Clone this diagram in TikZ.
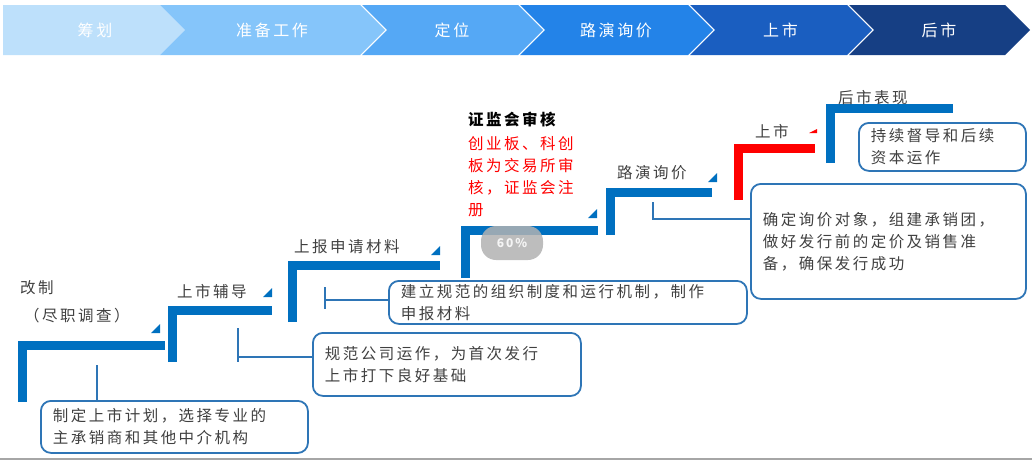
\documentclass[tikz,border=0pt]{standalone}
\usepackage{fontspec}
\setmainfont{Noto Sans CJK SC}[LetterSpace=16]
\usetikzlibrary{positioning}
\definecolor{stepblue}{HTML}{0070C0}
\definecolor{boxblue}{HTML}{2E75B6}
\definecolor{txt}{HTML}{404040}
\definecolor{ph1}{HTML}{BDE0FB}
\definecolor{ph2}{HTML}{85C5FA}
\definecolor{ph3}{HTML}{55A8F5}
\definecolor{ph4}{HTML}{2383E8}
\definecolor{ph5}{HTML}{1A5EC0}
\definecolor{ph6}{HTML}{163F84}
\tikzset{
  stepline/.style={line width=9pt,stepblue},
  lbl/.style={anchor=west,inner sep=0pt,font=\fontsize{15.5}{18}\selectfont,text=txt},
  infobox/.style={draw=boxblue,line width=1.8pt,rounded corners=10pt,anchor=north west,
    inner xsep=12pt,inner ysep=6pt,align=left,font=\fontsize{15.5}{22}\selectfont,text=txt},
  tee/.style={boxblue,line width=1.2pt},
  phase/.style={text=white,font=\fontsize{16}{18}\selectfont}
}
\newcommand{\chev}[4]{% x0, x1, colour, text
  \fill[#3] (#1,5) -- (#2,5) -- (#2+25,30) -- (#2,55) -- (#1,55) -- (#1+25,30) -- cycle;
  \node[phase] at ({(#1+#2)/2+12},30) {#4};}
\begin{document}
\begin{tikzpicture}[x=1pt,y=-1pt]
\useasboundingbox (0,0) rectangle (1032,461);
% phases
\fill[ph1] (3,5) -- (160,5) -- (185,30) -- (160,55) -- (3,55) -- cycle;
\node[phase] at (95,30) {筹划};
\chev{160}{360}{ph2}{准备工作}
\chev{362}{518}{ph3}{定位}
\chev{520}{688}{ph4}{路演询价}
\chev{690}{847}{ph5}{上市}
\chev{849}{1005}{ph6}{后市}
\draw[gray!70,line width=2pt] (0,459) -- (1032,459);
% steps
\draw[stepline] (22,402) -- (22,345) -- (165,345);
\draw[stepline] (172,362) -- (172,310) -- (272,310);
\draw[stepline] (292,322) -- (292,265) -- (440,265);
\draw[stepline] (465,278) -- (465,230) -- (598,230);
\draw[stepline] (610,235) -- (610,192) -- (712,192);
\draw[stepline,red] (738,200) -- (738,148) -- (815,148);
\draw[stepline] (830,163) -- (830,108) -- (953,108);
\foreach \x/\y in {160/333,272/297,440/255,597/218,717/182}
  \fill[stepblue] (\x,\y) -- (\x,\y-9) -- (\x-9,\y) -- cycle;
\fill[red] (817,133) -- (817,129) -- (809,133) -- cycle;
% labels
\node[lbl] (gz) at (20,288) {改制};
\node[lbl] (jd) at (24,316) {（尽职调查）};
\node[lbl] (fd) at (177,292) {上市辅导};
\node[lbl] (sb) at (294,247) {上报申请材料};
\node[lbl,font=\fontsize{15.5}{18}\selectfont\bfseries,text=black] (sh) at (468,119) {证监会审核};
\node[lbl,anchor=north west,align=left,text=red,font=\fontsize{15.5}{22}\selectfont] (zc) at (468,136) {创业板、科创\\板为交易所审\\核，证监会注\\册};
\node[lbl] (ly) at (617,173) {路演询价};
\node[lbl] (ss) at (755,132) {上市};
\node[lbl] (hs) at (838,98) {后市表现};
\node[fill=gray!60,opacity=.85,rounded corners=15pt,minimum width=62pt,minimum height=34pt,
  text=white,font=\bfseries\fontsize{12}{14}\selectfont] (pct) at (512,243) {60\%};
% boxes
\node[infobox,text width=243pt,minimum height=52pt] (b1) at (40,400) {制定上市计划，选择专业的\\主承销商和其他中介机构};
\node[infobox,text width=244pt,minimum height=63pt] (b2) at (312,332) {规范公司运作，为首次发行\\上市打下良好基础};
\node[infobox,text width=334pt,minimum height=43pt,inner ysep=2pt] (b3) at (388,280) {建立规范的组织制度和运行机制，制作\\申报材料};
\node[infobox,text width=251pt,minimum height=115pt] (b4) at (750,183) {确定询价对象，组建承销团，\\做好发行前的定价及销售准\\备，确保发行成功};
\node[infobox,text width=143pt,minimum height=48pt,inner ysep=2pt] (b5) at (858,122) {持续督导和后续\\资本运作};
% connectors
\coordinate (c1) at (97,365);
\draw[tee] (c1) -- (c1 |- b1.north);
\coordinate (c2) at (238,357);
\draw[tee] (238,328) -- (238,362) (c2) -- (c2 -| b2.west);
\coordinate (c3) at (325,300);
\draw[tee] (325,287) -- (325,309) (c3) -- (c3 -| b3.west);
\coordinate (c4) at (653,219);
\draw[tee] (653,202) -- (c4) -- (c4 -| b4.west);
\end{tikzpicture}
\end{document}
